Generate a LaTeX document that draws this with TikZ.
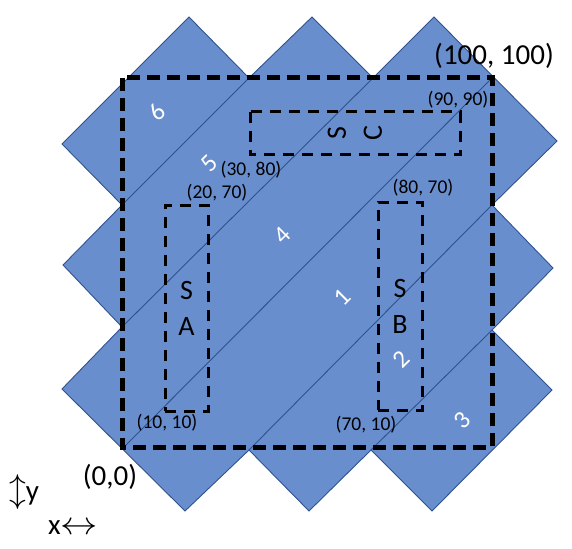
\documentclass[tikz,border=0pt]{standalone}
\usepackage{fontspec}
\setmainfont{Carlito}
\usepackage{tikz}

\definecolor{tileblue}{RGB}{105,142,206}
\definecolor{tileedge}{RGB}{47,82,143}

\begin{document}
\begin{tikzpicture}[x=1pt,y=-1pt,
    tile/.style={fill=tileblue,draw=tileedge,line width=0.9pt},
    cut/.style={draw=tileedge,line width=0.9pt},
    frame/.style={draw=black,line width=5pt,dash pattern=on 13pt off 7pt},
    region/.style={draw=black,line width=3pt,dash pattern=on 11pt off 8pt,inner sep=0pt,align=center,font=\fontsize{28}{36}\selectfont},
    coord/.style={font=\fontsize{19.5}{23}\selectfont,inner sep=0pt},
    bigcoord/.style={font=\fontsize{29}{35}\selectfont,inner sep=0pt},
    strip/.style={text=white,rotate=45,font=\fontsize{25}{30}\selectfont,inner sep=0pt}]
\useasboundingbox (0,0) rectangle (572,548);

% valleys of the outline
\coordinate (lv1) at (122,205);
\coordinate (lv2) at (122,327);
\coordinate (tv1) at (249,78);
\coordinate (tv2) at (373,78);
\coordinate (rv1) at (492,205);
\coordinate (rv2) at (492,330);
\coordinate (bv1) at (249,450);
\coordinate (bv2) at (371,450);
\coordinate (sw) at (122,449);
\coordinate (ne) at (492,78);

\draw[tile] (62,144) -- (189,17) -- (tv1) -- (312,17) -- (tv2) -- (434,17)
    -- (557,141) -- (rv1) -- (553,268) -- (rv2) -- (552,390)
    -- (432,511) -- (bv2) -- (309,511) -- (bv1) -- (185,511)
    -- (62,389) -- (lv2) -- (63,265) -- (lv1) -- cycle;

\path[cut] (lv1) edge (tv1);
\path[cut] (lv2) edge (tv2);
\path[cut] (sw) edge (ne);
\path[cut] (bv1) edge (rv1);
\path[cut] (bv2) edge (rv2);

\node[strip] (n6) at (157,112) {6};
\node[strip] (n5) at (209,163) {5};
\node[strip] (n4) at (282,235) {4};
\node[strip] (n1) at (342,297) {1};
\node[strip] (n2) at (401,359) {2};
\node[strip] (n3) at (462,420) {3};

\draw[frame] (122,78) rectangle (492,447);

\node[region,minimum width=43pt,minimum height=206pt] (sA) at (186.5,308) {S\\A};
\node[region,minimum width=44pt,minimum height=208pt] (sB) at (400,306) {S\\B};
\node[region,rotate=90,minimum width=43pt,minimum height=210pt] (sC) at (355,133.5) {S\\C};

\node[bigcoord] (c100) at (494,56) {(100, 100)};
\node[coord] (c9090) at (458,100) {(90, 90)};
\node[coord] (c3080) at (251,170) {(30, 80)};
\node[coord] (c2070) at (217,193) {(20, 70)};
\node[coord] (c8070) at (423,188) {(80, 70)};
\node[coord] (c1010) at (167,423) {(10, 10)};
\node[coord] (c7010) at (366,425) {(70, 10)};
\node[bigcoord] (c00) at (110,477) {(0,0)};

\node[bigcoord] (ylab) at (24,492) {\scalebox{1.35}{$\updownarrow$}y};
\node[bigcoord] (xlab) at (73,528) {x\scalebox{1.5}[1.3]{$\leftrightarrow$}};
\end{tikzpicture}
\end{document}
